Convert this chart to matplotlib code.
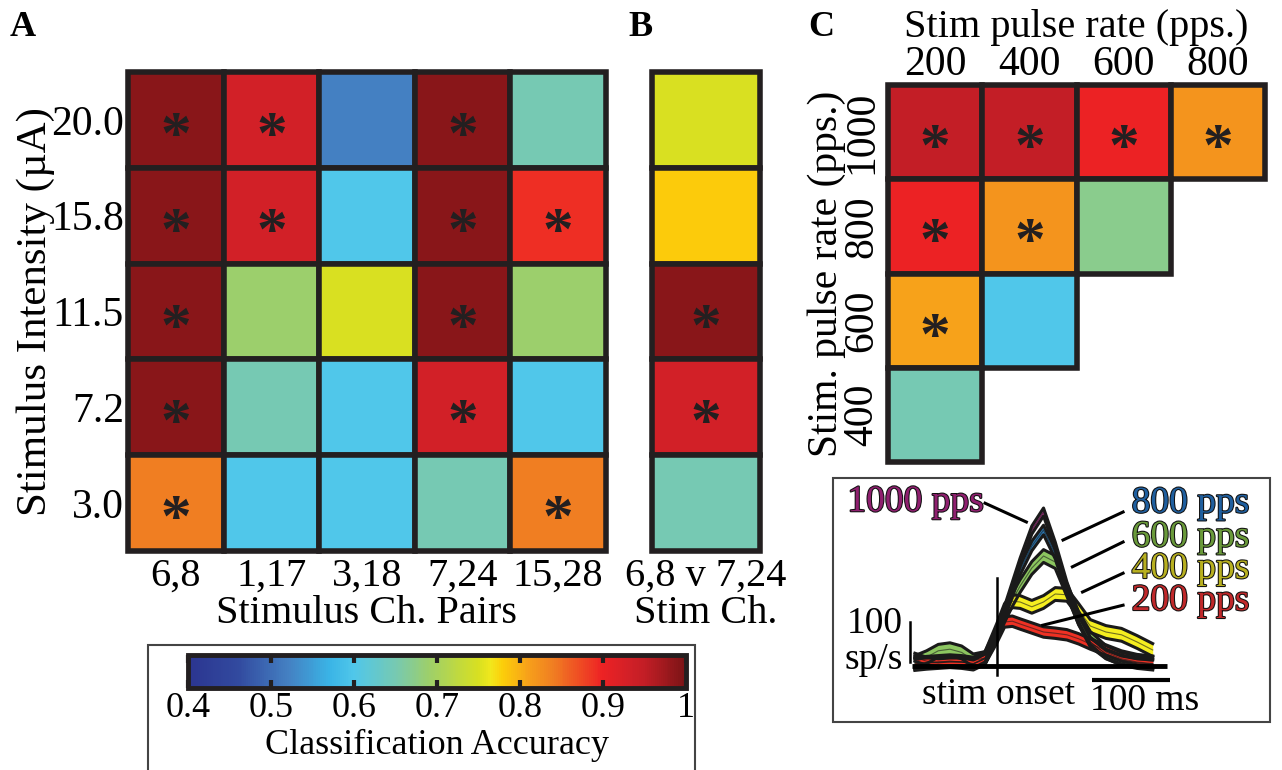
import matplotlib
matplotlib.use("Agg")
import matplotlib.pyplot as plt
import matplotlib.patheffects as pe
from matplotlib.colors import LinearSegmentedColormap, Normalize
from matplotlib.cm import ScalarMappable
from matplotlib.patches import Rectangle

plt.rcParams['font.family'] = ['Liberation Serif', 'DejaVu Serif']

# ---- panel A: accuracy per stim intensity x channel pair
intensities = ["20.0", "15.8", "11.5", "7.2", "3.0"]
ch_pairs = ["6,8", "1,17", "3,18", "7,24", "15,28"]
acc_a = [
    [0.99, 0.93, 0.52, 0.99, 0.65],
    [0.99, 0.93, 0.60, 0.99, 0.89],
    [0.99, 0.69, 0.75, 0.99, 0.69],
    [0.99, 0.65, 0.60, 0.93, 0.60],
    [0.84, 0.60, 0.60, 0.65, 0.84],
]
sig_a = [
    [1, 1, 0, 1, 0],
    [1, 1, 0, 1, 1],
    [1, 0, 0, 1, 0],
    [1, 0, 0, 1, 0],
    [1, 0, 0, 0, 1],
]

# ---- panel B: 6,8 vs 7,24
stim_ch = ["6,8 v 7,24"]
acc_b = [[0.75], [0.78], [0.99], [0.93], [0.65]]
sig_b = [[0], [0], [1], [1], [0]]

# ---- panel C: pulse rate pairs
rates_col = ["200", "400", "600", "800"]
rates_row = ["1000", "800", "600", "400"]
acc_c = [
    [0.95, 0.95, 0.90, 0.82],
    [0.90, 0.82, 0.67, None],
    [0.81, 0.60, None, None],
    [0.65, None, None, None],
]
sig_c = [
    [1, 1, 1, 1],
    [1, 1, 0, 0],
    [1, 0, 0, 0],
    [0, 0, 0, 0],
]

# ---- inset: mean firing rate (sp/s) vs time from stim onset (ms)
t_ms = [-105, -90, -75, -60, -45, -30, -15, 0, 10, 20, 30, 45, 60, 75, 90, 105, 120, 140, 160, 180, 200]
fr_1000 = [22, 12, 8, 10, 10, 5, 20, 80, 140, 200, 260, 340, 385, 300, 200, 120, 60, 30, 15, 8, 5]
fr_800 = [8, 8, 8, 10, 10, 5, 18, 75, 130, 185, 240, 300, 340, 280, 190, 115, 60, 30, 15, 8, 5]
fr_600 = [10, 22, 38, 42, 34, 14, 20, 80, 125, 165, 200, 245, 275, 260, 190, 120, 70, 35, 18, 10, 6]
fr_400 = [5, 8, 10, 12, 10, 6, 20, 90, 140, 162, 160, 148, 160, 180, 178, 140, 100, 85, 78, 60, 40]
fr_200 = [5, 8, 10, 12, 10, 6, 18, 70, 110, 112, 105, 95, 85, 82, 78, 68, 55, 40, 25, 16, 12]
fr_sem = [10, 12, 16, 16, 13]
rate_names = ["1000 pps", "800 pps", "600 pps", "400 pps", "200 pps"]

# colormap anchors (accuracy -> colour)
cmap_vals = [0.40, 0.46, 0.52, 0.57, 0.60, 0.65, 0.69, 0.75, 0.765, 0.78, 0.81, 0.84, 0.89, 0.90, 0.93, 0.95, 1.00]
cmap_cols = ["#2b3590", "#324a9f", "#4480c2", "#3ab4e6", "#50c7ea", "#76c9b2", "#9dcf6b", "#d8e021",
             "#f2e81c", "#fccd0a", "#f7a11a", "#f07e22", "#ee3124", "#ed2224", "#d32027", "#c41e26", "#7b1416"]
lo, hi = cmap_vals[0], cmap_vals[-1]
cmap = LinearSegmentedColormap.from_list(
    "acc", [((v - lo) / (hi - lo), c) for v, c in zip(cmap_vals, cmap_cols)])
norm = Normalize(lo, hi)
edge = "#231f20"

fig = plt.figure(figsize=(12.82, 7.70), dpi=100)
W, H = 1282, 770


def px_axes(x0, y0, x1, y1):
    return fig.add_axes([x0 / W, 1 - y1 / H, (x1 - x0) / W, (y1 - y0) / H])


def heat(ax, vals, sig, fs):
    nr, nc = len(vals), len(vals[0])
    for i in range(nr):
        for j in range(nc):
            v = vals[i][j]
            if v is None:
                continue
            ax.add_patch(Rectangle((j, i), 1, 1, facecolor=cmap(norm(v)), edgecolor=edge,
                                   lw=4, clip_on=False))
            if sig[i][j]:
                ax.annotate("*", (j + 0.5, i + 0.5), xytext=(0, -13), textcoords="offset points",
                            ha="center", va="center", fontsize=44, fontweight="bold", color=edge)
    ax.set_xlim(0, nc)
    ax.set_ylim(nr, 0)
    for s in ax.spines.values():
        s.set_visible(False)
    ax.tick_params(length=0, labelsize=fs, pad=5)
    ax.set_xticks([j + 0.5 for j in range(nc)])
    ax.set_yticks([i + 0.5 for i in range(nr)])


# panel A
axA = px_axes(128, 72, 606, 551)
heat(axA, acc_a, sig_a, 29)
axA.set_xticklabels(ch_pairs)
axA.set_yticklabels(intensities)
axA.tick_params(axis="y", labelsize=30, pad=3)
axA.set_xlabel("Stimulus Ch. Pairs", fontsize=29, labelpad=0)
axA.set_ylabel("Stimulus Intensity (\u00b5A)", fontsize=31)
axA.yaxis.set_label_coords(-0.152, 0.5)

# panel B
axB = px_axes(652, 72, 760, 551)
heat(axB, acc_b, sig_b, 29)
axB.set_xticklabels(stim_ch)
axB.set_yticklabels([])
axB.set_xlabel("Stim Ch.", fontsize=29, labelpad=0)

# panel C
axC = px_axes(888, 85, 1265, 462)
heat(axC, acc_c, sig_c, 30)
axC.xaxis.tick_top()
axC.xaxis.set_label_position("top")
axC.set_xticklabels(rates_col)
axC.set_yticklabels(rates_row, rotation=90, va="center")
axC.tick_params(axis="x", pad=1)
axC.set_xlabel("Stim pulse rate (pps.)", fontsize=29, labelpad=6)
axC.set_ylabel("Stim. pulse rate (pps.)", fontsize=30)
axC.yaxis.set_label_coords(-0.112, 0.5)

# panel letters
for lbl, x in [("A", 10), ("B", 628), ("C", 808)]:
    fig.text(x / W, 1 - 28 / H, lbl, fontsize=26, fontweight="bold", va="center")

# colorbar with frame
fig.patches.append(Rectangle((148 / W, -0.01), (695 - 148) / W, 0.01 + 1 - 645 / H,
                             transform=fig.transFigure, fill=False, edgecolor="#444444", lw=1.5))
cax = px_axes(188, 655, 686, 688)
cb = fig.colorbar(ScalarMappable(norm=norm, cmap=cmap), cax=cax, orientation="horizontal",
                  ticks=[0.4, 0.5, 0.6, 0.7, 0.8, 0.9, 1.0])
cb.ax.set_xticklabels(["0.4", "0.5", "0.6", "0.7", "0.8", "0.9", "1"])
cb.outline.set_linewidth(3.5)
cb.outline.set_edgecolor(edge)
cb.ax.tick_params(axis="x", direction="in", length=6, width=3, top=True, bottom=True,
                  labelsize=26, pad=3, color=edge)
cb.set_label("Classification Accuracy", fontsize=26, labelpad=3)

# inset with PSTHs
fig.patches.append(Rectangle((833 / W, 1 - 722 / H), (1270 - 833) / W, (722 - 478) / H,
                             transform=fig.transFigure, fill=False, edgecolor="#444444", lw=1.5))
axI = px_axes(840, 482, 1265, 715)
axI.set_xlim(-201, 344)
axI.set_ylim(-122.5, 460)
axI.axis("off")
series = [fr_1000, fr_800, fr_600, fr_400, fr_200]
band_cols = ["#c2399a", "#2a7ab8", "#8cc660", "#f5ee20", "#ee3124"]
text_cols = ["#8f1f6f", "#1f5f9f", "#6a9a3a", "#b8b020", "#c0282a"]
for fr, w, c in zip(series, fr_sem, band_cols):
    lo_ = [v - w for v in fr]
    hi_ = [v + w for v in fr]
    axI.fill_between(t_ms, lo_, hi_, color=c, lw=0)
    axI.plot(t_ms, lo_, color="#1a1a1a", lw=2.2)
    axI.plot(t_ms, hi_, color="#1a1a1a", lw=2.2)
    axI.plot(t_ms, fr, color="#1a1a1a", lw=0.8, alpha=0.6)

axI.plot([-109, 218], [0, 0], color="black", lw=3.5, solid_capstyle="butt")
axI.plot([0, 0], [-22, 220], color="black", lw=1.8)
axI.plot([-111, -111], [10, 110], color="black", lw=1.8)
axI.plot([122, 222], [-35, -35], color="black", lw=3, solid_capstyle="butt")
axI.text(-120, 106, "100", ha="right", va="center", fontsize=27)
axI.text(-120, 16, "sp/s", ha="right", va="center", fontsize=27)
axI.text(2, -72, "stim onset", ha="center", va="center", fontsize=27)
axI.text(190, -88, "100 ms", ha="center", va="center", fontsize=27)

# rate labels with leader lines
label_pos = [(-17, 410), (173, 407), (173, 322), (173, 243), (173, 163)]
leaders = [((-15, 407), (38, 360)), ((162, 385), (85, 315)), ((162, 310), (97, 248)),
           ((162, 232), (110, 185)), ((162, 152), (59, 102))]
for name, (x, y), ((x0, y0), (x1, y1)), tc in zip(rate_names, label_pos, leaders, text_cols):
    ha = "right" if name.startswith("1000") else "left"
    axI.text(x, y, name, ha=ha, va="center", fontsize=27, color=tc,
             path_effects=[pe.withStroke(linewidth=1.5, foreground="#111111")])
    axI.plot([x0, x1], [y0, y1], color="black", lw=2.2)

fig.savefig("out.png", dpi=100, facecolor="white")
